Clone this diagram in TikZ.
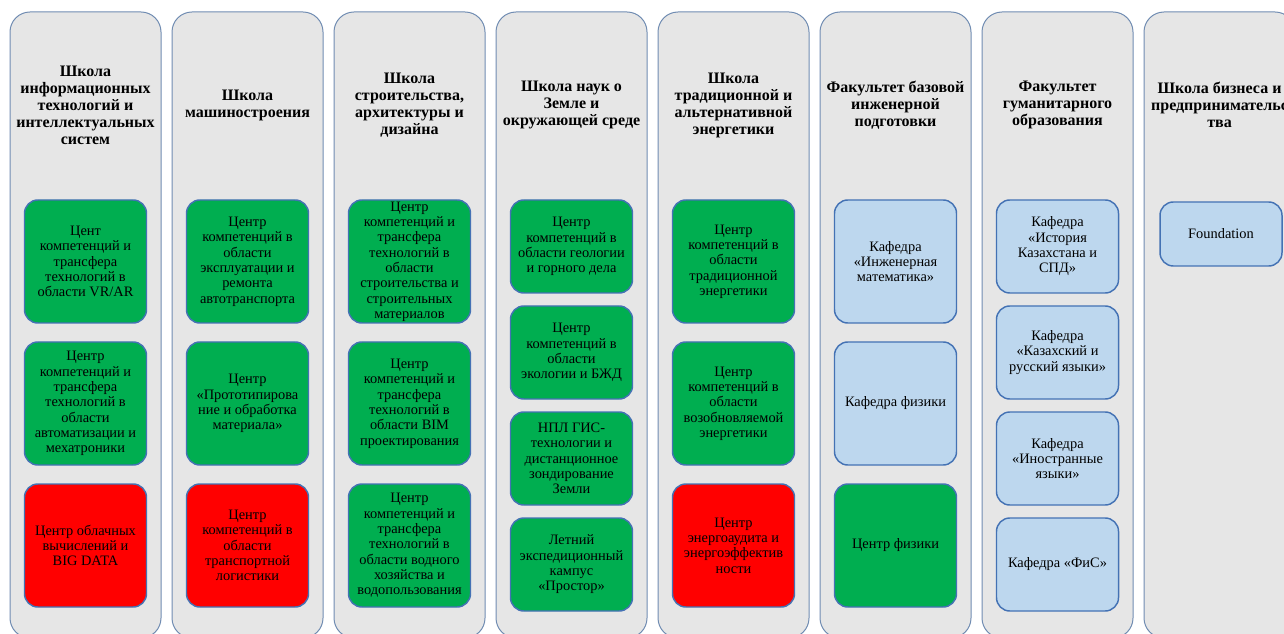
\documentclass[tikz,border=0pt]{standalone}
\usepackage{fontspec}
\setmainfont{Liberation Serif}
\usetikzlibrary{positioning}
\definecolor{colfill}{RGB}{230,230,230}
\definecolor{colline}{RGB}{112,140,178}
\definecolor{boxline}{RGB}{68,114,180}
\definecolor{cgreen}{RGB}{0,174,80}
\definecolor{cred}{RGB}{255,0,0}
\definecolor{cblue}{RGB}{189,215,238}

\begin{document}
\begin{tikzpicture}[
    x=0.75pt, y=-0.75pt,
    node distance=8.25pt,
    column/.style={rectangle, draw=colline, line width=0.75pt, fill=colfill, rounded corners=15pt, minimum width=113.25pt, minimum height=469.5pt, inner sep=0pt, outer sep=0pt},
    head/.style={align=center, inner sep=0pt, font=\fontsize{12}{12.75}\selectfont\bfseries},
    box/.style={rectangle, draw=boxline, line width=1.1pt, rounded corners=10pt, minimum width=91.5pt, minimum height=92.25pt, align=center, inner sep=0pt, outer sep=0pt, font=\fontsize{10.8}{11.5}\selectfont},
    short/.style={minimum height=69.75pt},
    greenbox/.style={box, fill=cgreen},
    redbox/.style={box, fill=cred},
    bluebox/.style={box, fill=cblue}
]
\useasboundingbox (0,0) rectangle (1284,634);

\node[column, anchor=north west] (c1) at (10,12) {};
\node[column, right=of c1] (c2) {};
\node[column, right=of c2] (c3) {};
\node[column, right=of c3] (c4) {};
\node[column, right=of c4] (c5) {};
\node[column, right=of c5] (c6) {};
\node[column, right=of c6] (c7) {};
\node[column, right=of c7] (c8) {};

\coordinate (hy) at (0,105);
\node[head] (h1) at (c1 |- hy) {Школа\\информационных\\технологий и\\интеллектуальных\\систем};
\node[head] (h2) at (c2 |- hy) {Школа\\машиностроения};
\node[head] (h3) at (c3 |- hy) {Школа\\строительства,\\архитектуры и\\дизайна};
\node[head] (h4) at (c4 |- hy) {Школа наук о\\Земле и\\окружающей среде};
\node[head] (h5) at (c5 |- hy) {Школа\\традиционной и\\альтернативной\\энергетики};
\node[head] (h6) at (c6 |- hy) {Факультет базовой\\инженерной\\подготовки};
\node[head] (h7) at (c7 |- hy) {Факультет\\гуманитарного\\образования};
\node[head] (h8) at (c8 |- hy) {Школа бизнеса и\\предпринимательс\\тва};

\coordinate (by) at (0,261.5);
\coordinate (sy) at (0,246.5);

\node[greenbox] (it1) at (c1 |- by) {Цент\\компетенций и\\трансфера\\технологий в\\области VR/AR};
\node[greenbox, below=14.25pt of it1] (it2) {Центр\\компетенций и\\трансфера\\технологий в\\области\\автоматизации и\\мехатроники};
\node[redbox, below=14.25pt of it2] (it3) {Центр облачных\\вычислений и\\BIG DATA};

\node[greenbox] (ms1) at (c2 |- by) {Центр\\компетенций в\\области\\эксплуатации и\\ремонта\\автотранспорта};
\node[greenbox, below=14.25pt of ms1] (ms2) {Центр\\«Прототипирова\\ние и обработка\\материала»};
\node[redbox, below=14.25pt of ms2] (ms3) {Центр\\компетенций в\\области\\транспортной\\логистики};

\node[greenbox] (sa1) at (c3 |- by) {Центр\\компетенций и\\трансфера\\технологий в\\области\\строительства и\\строительных\\материалов};
\node[greenbox, below=14.25pt of sa1] (sa2) {Центр\\компетенций и\\трансфера\\технологий в\\области BIM\\проектирования};
\node[greenbox, below=14.25pt of sa2] (sa3) {Центр\\компетенций и\\трансфера\\технологий в\\области водного\\хозяйства и\\водопользования};

\node[greenbox, short] (ze1) at (c4 |- sy) {Центр\\компетенций в\\области геологии\\и горного дела};
\node[greenbox, short, below=9.75pt of ze1] (ze2) {Центр\\компетенций в\\области\\экологии и БЖД};
\node[greenbox, short, below=9.75pt of ze2] (ze3) {НПЛ ГИС-\\технологии и\\дистанционное\\зондирование\\Земли};
\node[greenbox, short, below=9.75pt of ze3] (ze4) {Летний\\экспедиционный\\кампус\\«Простор»};

\node[greenbox] (en1) at (c5 |- by) {Центр\\компетенций в\\области\\традиционной\\энергетики};
\node[greenbox, below=14.25pt of en1] (en2) {Центр\\компетенций в\\области\\возобновляемой\\энергетики};
\node[redbox, below=14.25pt of en2] (en3) {Центр\\энергоаудита и\\энергоэффектив\\ности};

\node[bluebox] (fb1) at (c6 |- by) {Кафедра\\«Инженерная\\математика»};
\node[bluebox, below=14.25pt of fb1] (fb2) {Кафедра физики};
\node[greenbox, below=14.25pt of fb2] (fb3) {Центр физики};

\node[bluebox, short] (gu1) at (c7 |- sy) {Кафедра\\«История\\Казахстана и\\СПД»};
\node[bluebox, short, below=9.75pt of gu1] (gu2) {Кафедра\\«Казахский и\\русский языки»};
\node[bluebox, short, below=9.75pt of gu2] (gu3) {Кафедра\\«Иностранные\\языки»};
\node[bluebox, short, below=9.75pt of gu3] (gu4) {Кафедра «ФиС»};

\node[bluebox, minimum height=48pt] (bs1) at (1221,234) {Foundation};

\end{tikzpicture}
\end{document}
